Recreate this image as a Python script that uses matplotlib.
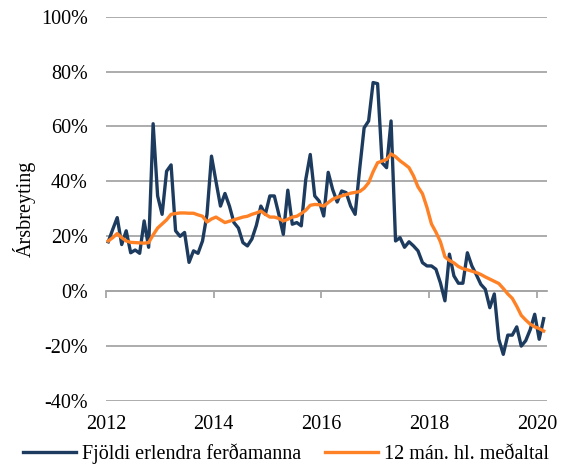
import numpy as np
import matplotlib
matplotlib.use("Agg")
import matplotlib.pyplot as plt

# Mánaðarleg gögn jan 2012 - feb 2020 (ársbreyting, %)
start_year = 2012
ferdamenn = [
    18, 22.5, 26.8, 17, 22, 14, 15, 13.8, 25.6, 16, 61, 34.7,
    28, 43.7, 46, 22, 20, 21.4, 10.5, 14.7, 13.8, 18.3, 28, 49.2,
    40, 31, 35.6, 31, 25, 23, 17.7, 16.5, 19, 24, 31, 28,
    34.7, 34.7, 28, 20.7, 36.8, 24.4, 25, 23.8, 40.7, 49.8, 34.7, 32.8,
    27.4, 43.3, 37, 32.5, 36.5, 35.9, 31, 28, 44.4, 59.5, 62, 76,
    75.6, 46.8, 45, 62, 18.3, 19.5, 16, 18, 16.5, 14.7, 10.4, 9.2,
    9.2, 8, 3, -3.5, 13.5, 5.6, 2.9, 2.9, 14, 9.2, 6, 2.5,
    0.7, -6, -1, -17.5, -23, -16, -16, -13, -20, -18, -14, -8.4,
    -17.5, -10,
]
medaltal = [
    18.3, 19.5, 21, 19.5, 18.3, 17.8, 17.7, 17.6, 17.5, 17.7, 20.5, 23,
    24.5, 26, 28, 28.3, 28.5, 28.5, 28.4, 28.4, 27.8, 27.3, 25.2, 26.3,
    27, 26, 25, 25.5, 26, 26.5, 27, 27.3, 28, 28.5, 29.2, 28,
    27, 27, 26.5, 25.6, 26.2, 27, 27.3, 28.3, 29.5, 31.3, 31.6, 31.5,
    31, 32.3, 33.5, 34.2, 34.7, 35.2, 35.7, 36, 36.3, 37.5, 39.5, 43.5,
    46.8, 47.4, 48, 50, 49, 47.5, 46.3, 45, 42, 38, 35.5, 30.5,
    24.5, 21.5, 18, 12.5, 11.2, 10.3, 9, 8.2, 7.8, 7.3, 6.8, 6.1,
    5.2, 4.4, 3.6, 2.8, 1, -1, -2.6, -5.5, -8.8, -10.5, -12, -13,
    -13.6, -14.5,
]
ar_merki = [2012, 2014, 2016, 2018, 2020]
y_merki = [-40, -20, 0, 20, 40, 60, 80, 100]

x = start_year + (np.arange(len(ferdamenn)) + 0.5) / 12

plt.rcParams["font.family"] = ["Liberation Serif", "DejaVu Serif"]
plt.rcParams["font.size"] = 14.5

fig = plt.figure(figsize=(5.65, 4.67), dpi=100)
ax = fig.add_axes([0.1876, 0.1413, 0.968 - 0.1876, 0.9643 - 0.1413])

ax.plot(x, ferdamenn, color="#1d3b5e", lw=2.4, label="Fjöldi erlendra ferðamanna", zorder=3)
ax.plot(x, medaltal, color="#ff8126", lw=2.4, label="12 mán. hl. meðaltal", zorder=4)

ax.set_ylim(-40, 100)
ax.set_xlim(2012, 2020.185)
ax.set_yticks(y_merki)
ax.set_yticklabels([f"{v}%" for v in y_merki])
ax.yaxis.grid(True, color="#a6a6a6", lw=1.3)
ax.set_axisbelow(True)
ax.tick_params(axis="y", length=0, pad=13)

for s in ["top", "right", "left", "bottom"]:
    ax.spines[s].set_visible(False)

# árstölur neðst, ásinn sjálfur við 0%
ax.set_xticks(ar_merki)
ax.set_xticklabels([str(a) for a in ar_merki])
ax.tick_params(axis="x", length=0, pad=10)

sec = ax.secondary_xaxis(40 / 140)
sec.set_xticks(ar_merki)
sec.set_xticklabels([])
sec.tick_params(axis="x", direction="out", length=5, color="#a6a6a6", width=1.3)
sec.spines["bottom"].set_color("#a6a6a6")
sec.spines["bottom"].set_linewidth(1.3)

ax.set_ylabel("Ársbreyting", labelpad=4)

fig.legend(loc="center", bbox_to_anchor=(286 / 565, 1 - 454 / 467), ncol=2, frameon=False,
           handlelength=2.6, columnspacing=1.2, handletextpad=0.3, borderaxespad=0)

fig.savefig("out.png", dpi=100)
